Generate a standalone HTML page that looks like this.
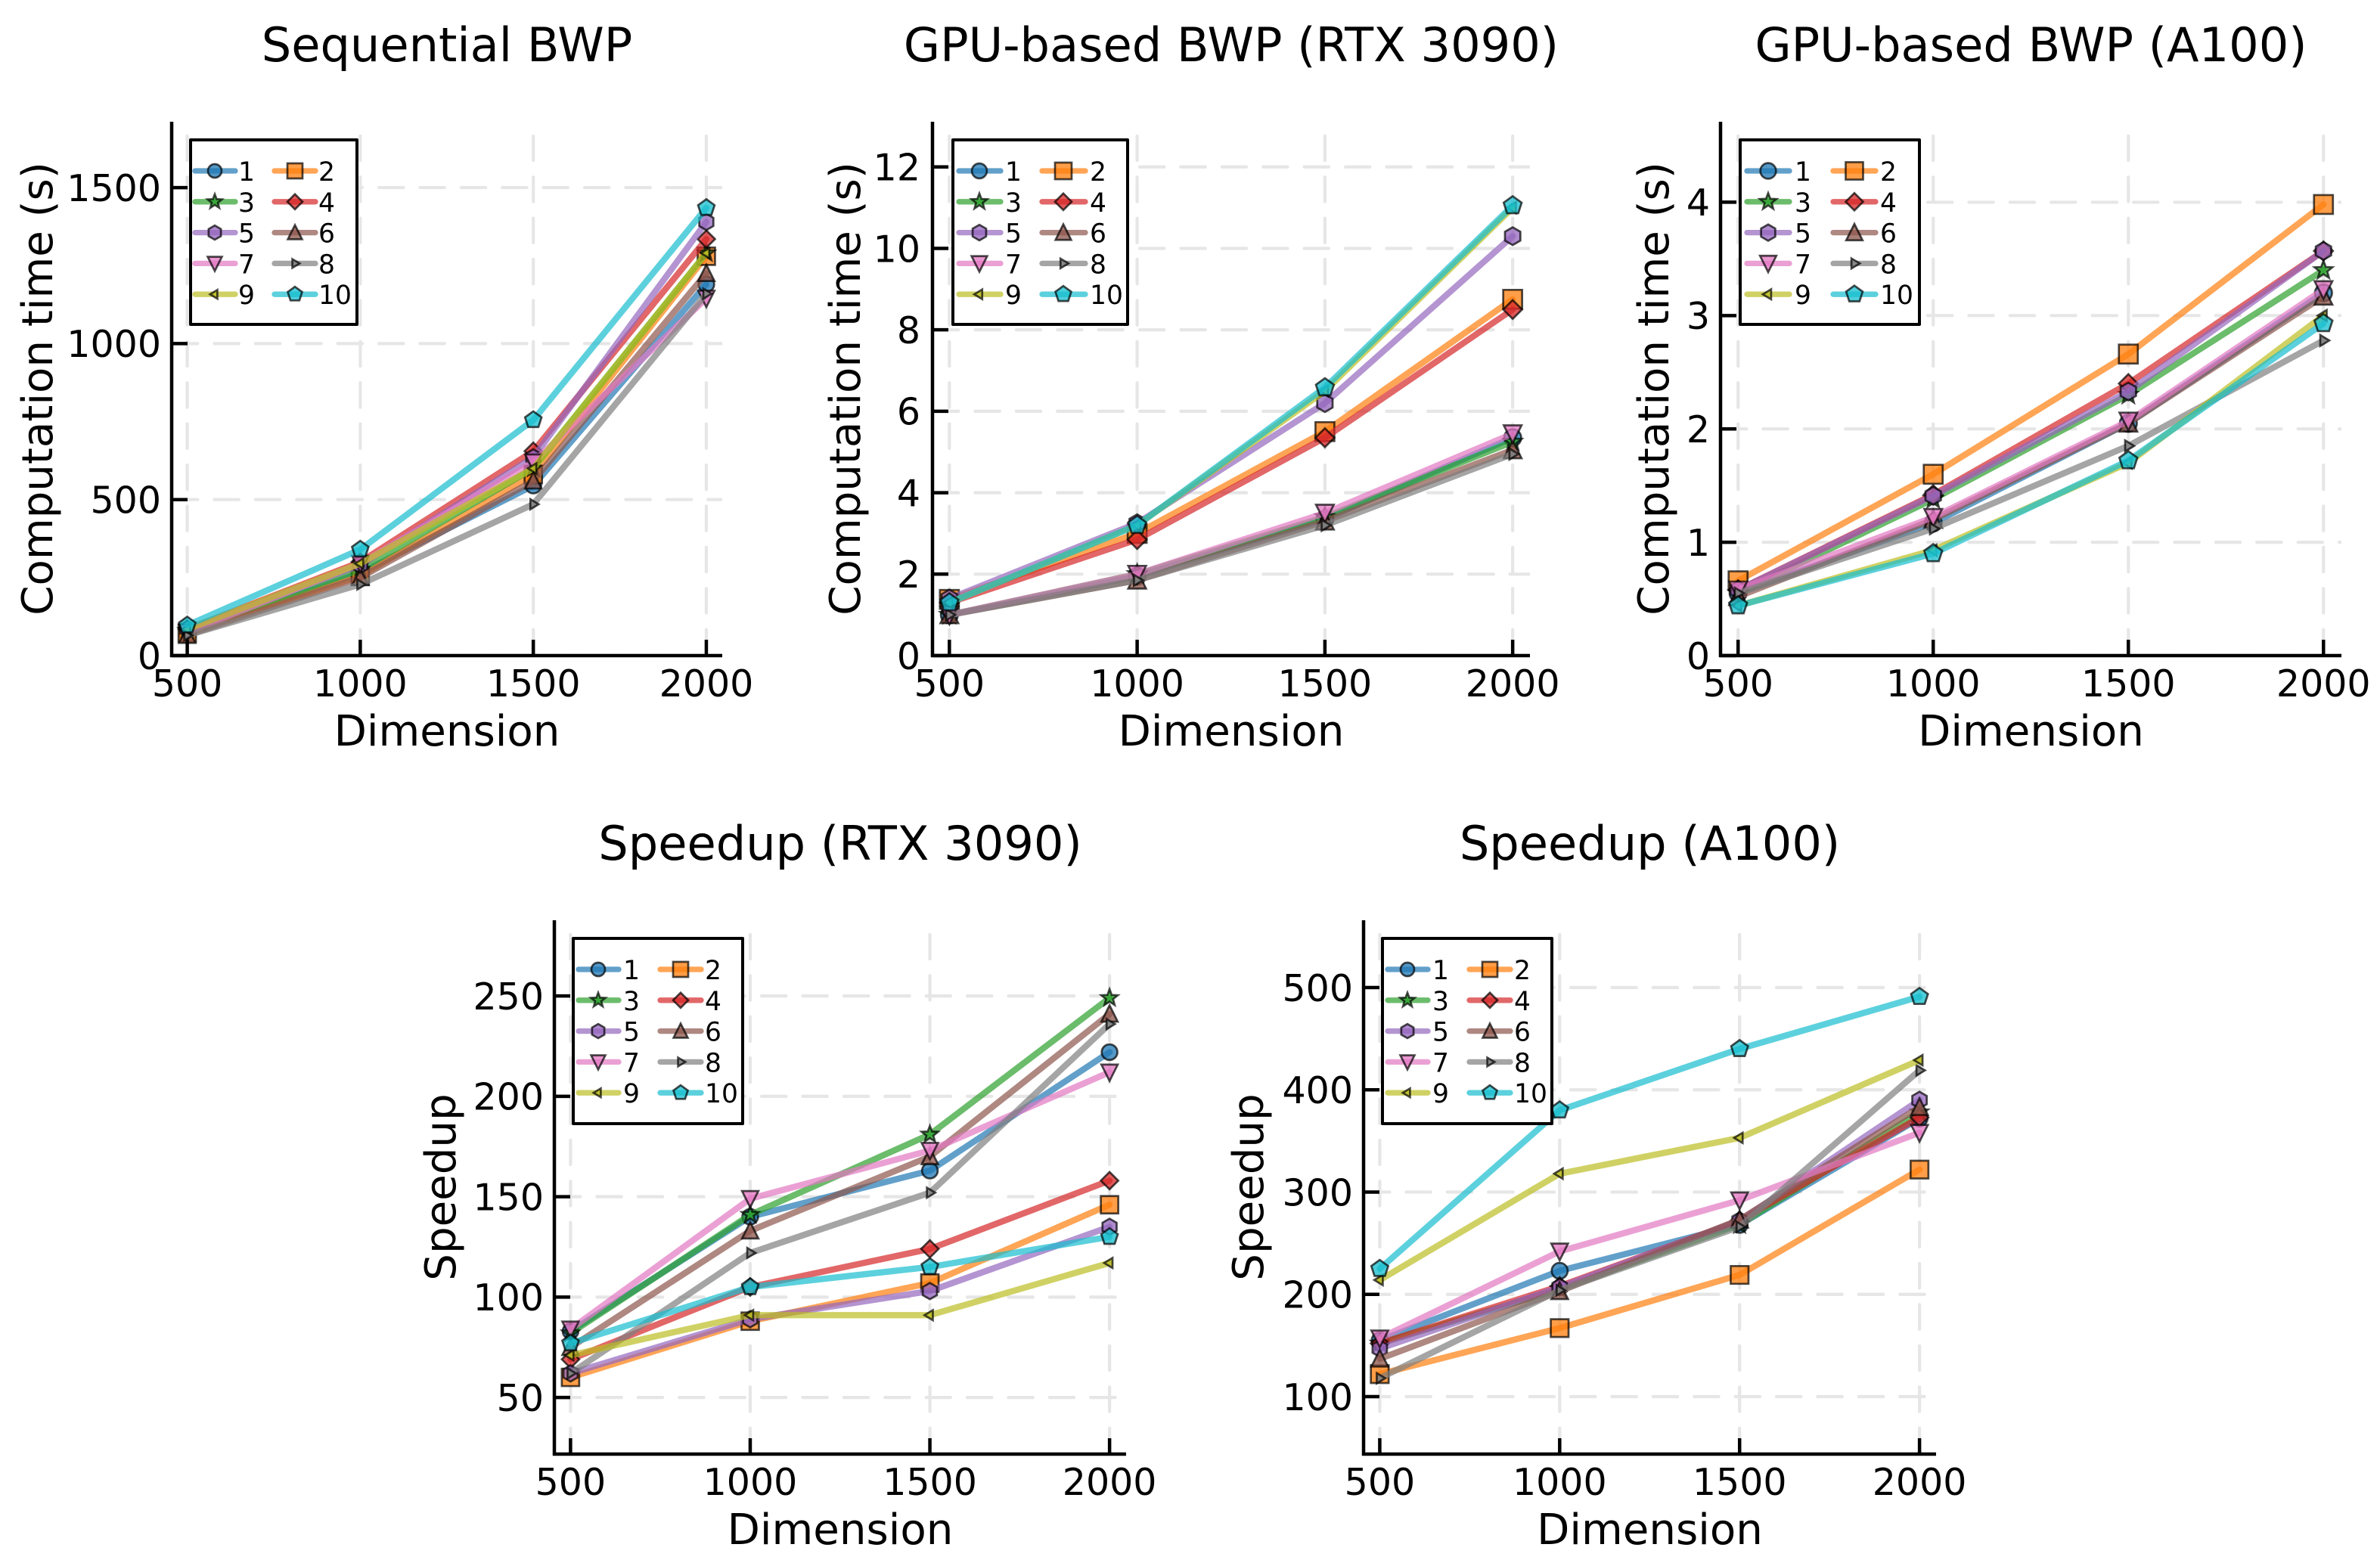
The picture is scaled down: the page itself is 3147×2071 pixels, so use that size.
<!DOCTYPE html>
<html lang="en">
<head>
<meta charset="utf-8">
<title>BWP computation time and speedup</title>
<style>
  html, body { margin: 0; padding: 0; background: #fff; }
  svg { display: block; }
  text { font-family: "DejaVu Sans", "Liberation Sans", sans-serif; fill: #000; }
</style>
</head>
<body>
<svg id="figure" xmlns="http://www.w3.org/2000/svg" width="3147" height="2071" viewBox="0 0 3147 2071"></svg>
<script>
// ---- Chart data ----
const categories = [500, 1000, 1500, 2000];
const seriesLabels = ['1', '2', '3', '4', '5', '6', '7', '8', '9', '10'];

const sequentialValues = [
  [70, 265, 545, 1190],
  [72, 255, 580, 1280],
  [80, 275, 600, 1290],
  [85, 300, 655, 1335],
  [85, 290, 635, 1390],
  [65, 250, 560, 1225],
  [75, 295, 620, 1145],
  [65, 228, 485, 1160],
  [85, 295, 600, 1290],
  [97, 340, 755, 1435]
];
const rtxTimeValues = [
  [1.0, 1.95, 3.35, 5.35],
  [1.38, 3.0, 5.5, 8.75],
  [1.0, 2.0, 3.4, 5.25],
  [1.3, 2.85, 5.35, 8.5],
  [1.4, 3.25, 6.2, 10.3],
  [1.0, 1.85, 3.3, 5.05],
  [1.0, 2.0, 3.5, 5.45],
  [1.0, 1.85, 3.2, 4.95],
  [1.3, 3.2, 6.5, 11.0],
  [1.3, 3.2, 6.58, 11.05]
];
const a100TimeValues = [
  [0.55, 1.17, 2.05, 3.2],
  [0.66, 1.6, 2.66, 3.98],
  [0.55, 1.38, 2.3, 3.4],
  [0.58, 1.42, 2.4, 3.57],
  [0.58, 1.41, 2.33, 3.57],
  [0.52, 1.2, 2.05, 3.17],
  [0.58, 1.22, 2.07, 3.23],
  [0.55, 1.12, 1.85, 2.78],
  [0.44, 0.93, 1.7, 3.0],
  [0.44, 0.9, 1.72, 2.93]
];
const rtxSpeedupValues = [
  [83, 140, 163, 222],
  [60, 88, 107, 146],
  [82, 141, 181, 249],
  [69, 105, 124, 158],
  [62, 89, 103, 135],
  [75, 133, 170, 241],
  [84, 149, 173, 212],
  [62, 122, 152, 236],
  [71, 91, 91, 117],
  [77, 105, 115, 130]
];
const a100SpeedupValues = [
  [155, 223, 268, 372],
  [122, 167, 219, 322],
  [152, 205, 268, 378],
  [152, 208, 272, 373],
  [147, 207, 272, 390],
  [137, 203, 273, 383],
  [157, 242, 292, 358],
  [118, 204, 266, 419],
  [214, 318, 353, 429],
  [225, 380, 440, 491]
];

const sequentialTicks = [0, 500, 1000, 1500];
const rtxTimeTicks = [0, 2, 4, 6, 8, 10, 12];
const a100TimeTicks = [0, 1, 2, 3, 4];
const rtxSpeedupTicks = [50, 100, 150, 200, 250];
const a100SpeedupTicks = [100, 200, 300, 400, 500];

// ---- Styling ----
const colors = ['#1f77b4', '#ff7f0e', '#2ca02c', '#d62728', '#9467bd', '#8c564b', '#e377c2', '#7f7f7f', '#bcbd22', '#17becf'];
const shapes = ['circle', 'square', 'star', 'diamond', 'hexagon', 'utriangle', 'dtriangle', 'rtriangle', 'ltriangle', 'pentagon'];
const xDomain = [455, 2046];

// ---- Panel layout ----
const panels = [
  { key: 'sequential-bwp', title: 'Sequential BWP', yTitle: 'Computation time (s)', values: sequentialValues, ticks: sequentialTicks,
    yDomain: [0, 1711], box: { left: 227, right: 955, top: 161, bottom: 867 },
    tickRight: 213, yTitleX: 69, plotMarker: 23,
    legend: { left: 252, right: 472, top: 185, bottom: 429, x1: 258, x2: 311, m1: 284, t1: 315, x3: 363, x4: 417, m2: 390, t2: 421, size: 20 } },
  { key: 'rtx-time', title: 'GPU-based BWP (RTX 3090)', yTitle: 'Computation time (s)', values: rtxTimeValues, ticks: rtxTimeTicks,
    yDomain: [0, 13.11], box: { left: 1233, right: 2023, top: 161, bottom: 867 },
    tickRight: 1217, yTitleX: 1137, plotMarker: 25,
    legend: { left: 1260, right: 1491, top: 185, bottom: 429, x1: 1268, x2: 1323, m1: 1295, t1: 1329, x3: 1378, x4: 1435, m2: 1406, t2: 1441, size: 22 } },
  { key: 'a100-time', title: 'GPU-based BWP (A100)', yTitle: 'Computation time (s)', values: a100TimeValues, ticks: a100TimeTicks,
    yDomain: [0, 4.71], box: { left: 2275, right: 3096, top: 161, bottom: 867 },
    tickRight: 2261, yTitleX: 2206, plotMarker: 25,
    legend: { left: 2301, right: 2538, top: 185, bottom: 429, x1: 2310, x2: 2366, m1: 2338, t1: 2373, x3: 2424, x4: 2480, m2: 2452, t2: 2486, size: 23 } },
  { key: 'rtx-speedup', title: 'Speedup (RTX 3090)', yTitle: 'Speedup', values: rtxSpeedupValues, ticks: rtxSpeedupTicks,
    yDomain: [21.8, 287.7], box: { left: 733, right: 1489, top: 1217, bottom: 1923 },
    tickRight: 719, yTitleX: 602, plotMarker: 23,
    legend: { left: 758, right: 982, top: 1241, bottom: 1486, x1: 765, x2: 818, m1: 791, t1: 824, x3: 873, x4: 927, m2: 900, t2: 932, size: 20 } },
  { key: 'a100-speedup', title: 'Speedup (A100)', yTitle: 'Speedup', values: a100SpeedupValues, ticks: a100SpeedupTicks,
    yDomain: [43.8, 565.8], box: { left: 1803, right: 2560, top: 1217, bottom: 1923 },
    tickRight: 1789, yTitleX: 1670, plotMarker: 23.5,
    legend: { left: 1828, right: 2052, top: 1241, bottom: 1486, x1: 1835, x2: 1888, m1: 1861, t1: 1894, x3: 1943, x4: 1997, m2: 1970, t2: 2002, size: 20 } }
];

const SVG_NS = 'http://www.w3.org/2000/svg';
const figure = document.getElementById('figure');

function make(parent, tag, attrs, content) {
  const node = document.createElementNS(SVG_NS, tag);
  for (const k in attrs) node.setAttribute(k, attrs[k]);
  if (content !== undefined) node.textContent = content;
  parent.appendChild(node);
  return node;
}

function regular(n, r, startDeg) {
  const pts = [];
  for (let i = 0; i < n; i++) {
    const a = (startDeg + i * 360 / n) * Math.PI / 180;
    pts.push([r * Math.cos(a), r * Math.sin(a)]);
  }
  return pts;
}

function shapePoints(kind, s) {
  switch (kind) {
    case 'square': return [[-s / 2, -s / 2], [s / 2, -s / 2], [s / 2, s / 2], [-s / 2, s / 2]];
    case 'diamond': return regular(4, 0.5 * s, 0);
    case 'hexagon': return regular(6, 0.47 * s, -90);
    case 'pentagon': return regular(5, 0.5 * s, -90);
    case 'utriangle': return [[0, -0.5 * s], [0.47 * s, 0.44 * s], [-0.47 * s, 0.44 * s]];
    case 'dtriangle': return [[-0.47 * s, -0.44 * s], [0.47 * s, -0.44 * s], [0, 0.5 * s]];
    case 'rtriangle': return [[-0.17 * s, -0.29 * s], [0.31 * s, 0], [-0.17 * s, 0.29 * s]];
    case 'ltriangle': return [[0.17 * s, -0.29 * s], [0.17 * s, 0.29 * s], [-0.31 * s, 0]];
    case 'star': {
      const outer = regular(5, 0.5 * s, -90);
      const inner = regular(5, 0.21 * s, -54);
      const pts = [];
      for (let i = 0; i < 5; i++) { pts.push(outer[i]); pts.push(inner[i]); }
      return pts;
    }
  }
  return [];
}

function drawMarker(parent, kind, cx, cy, s, color) {
  const style = { fill: color, 'fill-opacity': 0.76, stroke: '#000', 'stroke-opacity': 0.7, 'stroke-width': 2.7, 'stroke-linejoin': 'miter' };
  let node;
  if (kind === 'circle') {
    node = make(parent, 'circle', Object.assign({ cx: cx, cy: cy, r: 0.45 * s }, style));
  } else {
    const pts = shapePoints(kind, s).map(p => (cx + p[0]).toFixed(2) + ',' + (cy + p[1]).toFixed(2)).join(' ');
    node = make(parent, 'polygon', Object.assign({ points: pts }, style));
  }
  return node;
}

function drawPanel(panel, panelIndex) {
  const box = panel.box;
  const xScale = v => box.left + (v - xDomain[0]) / (xDomain[1] - xDomain[0]) * (box.right - box.left);
  const yScale = v => box.bottom - (v - panel.yDomain[0]) / (panel.yDomain[1] - panel.yDomain[0]) * (box.bottom - box.top);
  const cx = (box.left + box.right) / 2;
  const cy = (box.top + box.bottom) / 2;

  const group = make(figure, 'g', {});
  
  

  const clipId = 'clip-' + panelIndex;
  const defs = make(group, 'defs', {});
  const clip = make(defs, 'clipPath', { id: clipId });
  make(clip, 'rect', { x: box.left, y: box.top, width: box.right - box.left, height: box.bottom - box.top });

  // Grid
  const grid = make(group, 'g', { stroke: '#e6e6e6', 'stroke-width': 4.2, 'stroke-linecap': 'round', 'stroke-dasharray': '32.4 22', 'clip-path': 'url(#' + clipId + ')' });
  
  
  categories.forEach(v => {
    const line = make(grid, 'line', { x1: xScale(v), x2: xScale(v), y1: box.bottom - 2, y2: box.top });
    
    
  });
  panel.ticks.forEach(v => {
    const line = make(grid, 'line', { x1: box.left + 2, x2: box.right, y1: yScale(v), y2: yScale(v) });
    
    
  });

  // Series: each line is followed by its own markers, so later series overlay earlier ones
  panel.values.forEach((row, i) => {
    const seriesGroup = make(group, 'g', {});
    
    
    const pts = row.map((v, j) => xScale(categories[j]).toFixed(2) + ',' + yScale(v).toFixed(2)).join(' ');
    const line = make(seriesGroup, 'polyline', { points: pts, fill: 'none', stroke: colors[i], 'stroke-opacity': 0.7, 'stroke-width': 8.3, 'stroke-linejoin': 'round', 'stroke-linecap': 'round' });
    
    
    row.forEach((v, j) => {
      const mark = drawMarker(seriesGroup, shapes[i], xScale(categories[j]), yScale(v), panel.plotMarker, colors[i]);
      
      
    });
  });

  // Axes
  const axes = make(group, 'g', { stroke: '#000', 'stroke-width': 4.5 });
  
  
  const yAxis = make(axes, 'line', { x1: box.left, x2: box.left, y1: box.top, y2: box.bottom + 2 });
  
  
  const xAxis = make(axes, 'line', { x1: box.left - 2, x2: box.right, y1: box.bottom, y2: box.bottom });
  
  

  categories.forEach(v => {
    const tick = make(axes, 'line', { x1: xScale(v), x2: xScale(v), y1: box.bottom, y2: box.bottom - 21 });
    
    
    const label = make(group, 'text', { x: xScale(v), y: box.bottom + 54, 'text-anchor': 'middle', 'font-size': 49 }, String(v));
    
    
  });
  panel.ticks.forEach(v => {
    const tick = make(axes, 'line', { x1: box.left, x2: box.left + 21, y1: yScale(v), y2: yScale(v) });
    
    
    const label = make(group, 'text', { x: panel.tickRight, y: yScale(v) + 17.8, 'text-anchor': 'end', 'font-size': 49 }, String(v));
    
    
  });

  // Titles
  const title = make(group, 'text', { x: cx, y: box.top - 80, 'text-anchor': 'middle', 'font-size': 62.2 }, panel.title);
  
  
  const xTitle = make(group, 'text', { x: cx, y: box.bottom + 119, 'text-anchor': 'middle', 'font-size': 56.2 }, 'Dimension');
  
  
  const yTitle = make(group, 'text', { x: panel.yTitleX, y: cy, 'text-anchor': 'middle', 'font-size': 56.2, transform: 'rotate(-90 ' + panel.yTitleX + ' ' + cy + ')' }, panel.yTitle);
  
  

  // Legend
  const lg = panel.legend;
  const legend = make(group, 'g', {});
  
  
  const frame = make(legend, 'rect', { x: lg.left, y: lg.top, width: lg.right - lg.left, height: lg.bottom - lg.top, fill: '#fff', stroke: '#000', 'stroke-width': 4, 'stroke-linejoin': 'round' });
  
  
  seriesLabels.forEach((name, i) => {
    const col = i % 2;
    const rowY = lg.top + 41 + Math.floor(i / 2) * 40.8;
    const entry = make(legend, 'g', {});
    
    
    make(entry, 'line', { x1: col ? lg.x3 : lg.x1, x2: col ? lg.x4 : lg.x2, y1: rowY, y2: rowY, stroke: colors[i], 'stroke-opacity': 0.7, 'stroke-width': 7.3, 'stroke-linecap': 'round' });
    drawMarker(entry, shapes[i], col ? lg.m2 : lg.m1, rowY, lg.size, colors[i]);
    make(entry, 'text', { x: col ? lg.t2 : lg.t1, y: rowY + 13, 'font-size': 34.5 }, name);
  });
}

panels.forEach(drawPanel);
</script>
</body>
</html>
